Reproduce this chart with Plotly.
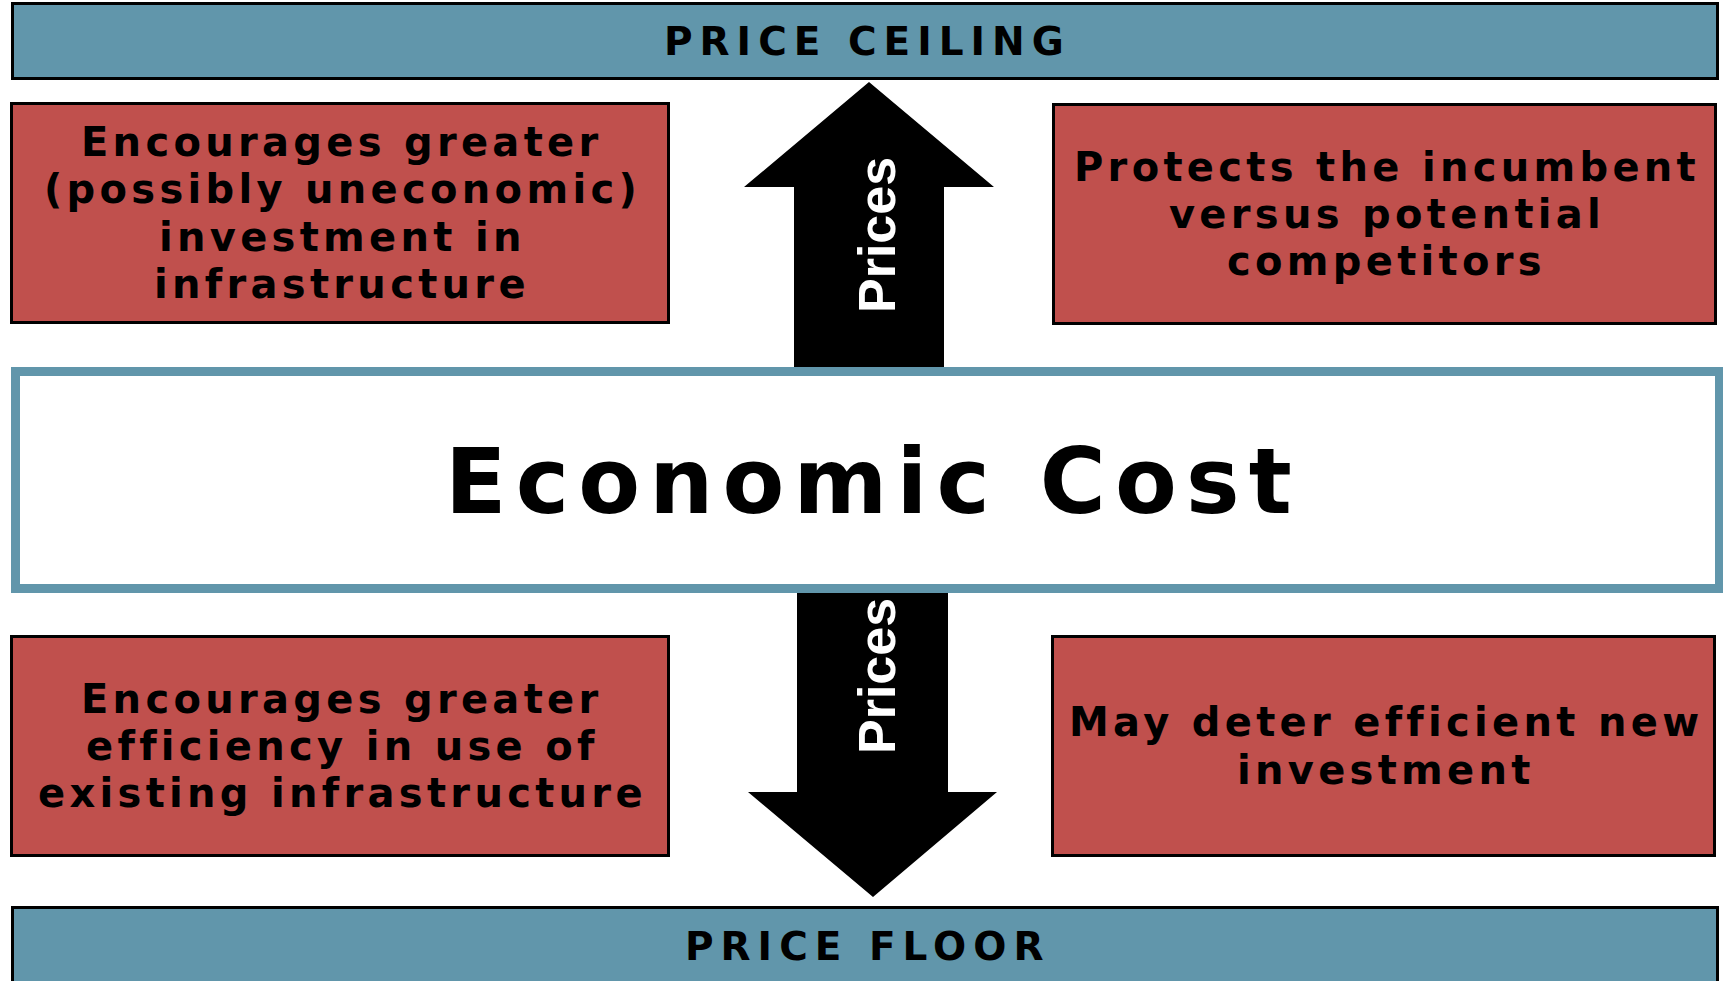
import plotly.graph_objects as go

# ---------------- text content ----------------
ceiling_label = "PRICE CEILING"
floor_label = "PRICE FLOOR"
center_label = "Economic Cost"
arrow_label = "Prices"
upper_left_lines = ["Encourages greater", "(possibly uneconomic)", "investment in", "infrastructure"]
upper_right_lines = ["Protects the incumbent", "versus potential", "competitors"]
lower_left_lines = ["Encourages greater", "efficiency in use of", "existing infrastructure"]
lower_right_lines = ["May deter efficient new", "investment"]

# ---------------- styling / geometry ----------------
W, H = 1723, 981
TEAL = "#6196AB"
RED = "#C0504D"
BOX_FONT = "DejaVu Sans, Verdana, sans-serif"
ARROW_FONT = "Liberation Sans, Arial, sans-serif"
LINE_GAP = 47.3

bar_geom = {"top": (11, 2, 1719, 80), "bottom": (11, 906, 1719, 984)}
box_geom = {
    "ul": (10, 102, 670, 324),
    "ur": (1052, 103, 1717, 325),
    "ll": (10, 635, 670, 857),
    "lr": (1051, 635, 1716, 857),
}
center_geom = (15.5, 371.5, 1719.5, 588.5)

up_arrow = "M 794 380 L 794 187 L 744 187 L 869 82 L 994 187 L 944 187 L 944 380 Z"
down_arrow = "M 797 580 L 797 792 L 748 792 L 873 897 L 997 792 L 948 792 L 948 580 Z"


def spaced(text, ls):
    return f'<span style="letter-spacing:{ls}px">{text}</span>'


fig = go.Figure()

shapes = []
for key in ("top", "bottom"):
    x0, y0, x1, y1 = bar_geom[key]
    shapes.append(dict(type="rect", x0=x0 + 1.5, y0=y0 + 1.5, x1=x1 - 1.5, y1=y1 - 1.5,
                       fillcolor=TEAL, line=dict(color="black", width=3), layer="above"))
for key, (x0, y0, x1, y1) in box_geom.items():
    shapes.append(dict(type="rect", x0=x0 + 1.5, y0=y0 + 1.5, x1=x1 - 1.5, y1=y1 - 1.5,
                       fillcolor=RED, line=dict(color="black", width=3), layer="above"))
shapes.append(dict(type="path", path=up_arrow, fillcolor="black", line=dict(width=0), layer="above"))
shapes.append(dict(type="path", path=down_arrow, fillcolor="black", line=dict(width=0), layer="above"))
cx0, cy0, cx1, cy1 = center_geom
shapes.append(dict(type="rect", x0=cx0, y0=cy0, x1=cx1, y1=cy1,
                   fillcolor="white", line=dict(color=TEAL, width=9), layer="above"))

annotations = []


def add_text(x, y, text, size, family=BOX_FONT, color="black", angle=0):
    annotations.append(dict(x=x, y=y, xref="x", yref="y", text=text, showarrow=False,
                            xanchor="center", yanchor="middle", align="center",
                            textangle=angle,
                            font=dict(family=family, size=size, color=color, weight=700)))


def center_of(g):
    x0, y0, x1, y1 = g
    return (x0 + x1) / 2, (y0 + y1) / 2


bx, by = center_of(bar_geom["top"])
add_text(bx + 2, 41.5, spaced(ceiling_label, 7), 39)
bx, by = center_of(bar_geom["bottom"])
add_text(bx + 2, 946, spaced(floor_label, 7), 39)

for key, lines in (("ul", upper_left_lines), ("ur", upper_right_lines),
                   ("ll", lower_left_lines), ("lr", lower_right_lines)):
    x, y = center_of(box_geom[key])
    n = len(lines)
    for i, line in enumerate(lines):
        add_text(x + 2, y + (i - (n - 1) / 2) * LINE_GAP, spaced(line, 4.3), 40)

add_text(873, 481, spaced(center_label, 9.2), 90)

add_text(877, 235, arrow_label, 52, family=ARROW_FONT, color="white", angle=-90)
add_text(877, 676, arrow_label, 52, family=ARROW_FONT, color="white", angle=-90)

fig.update_layout(
    width=W, height=H,
    margin=dict(l=0, r=0, t=0, b=0),
    paper_bgcolor="white", plot_bgcolor="white",
    xaxis=dict(range=[0, W], visible=False, fixedrange=True),
    yaxis=dict(range=[H, 0], visible=False, fixedrange=True),
    shapes=shapes,
    annotations=annotations,
    showlegend=False,
)

fig.write_html(
    "out.html",
    config={"displayModeBar": False},
    post_script="document.body.style.margin='0';document.body.style.overflow='hidden';",
)
